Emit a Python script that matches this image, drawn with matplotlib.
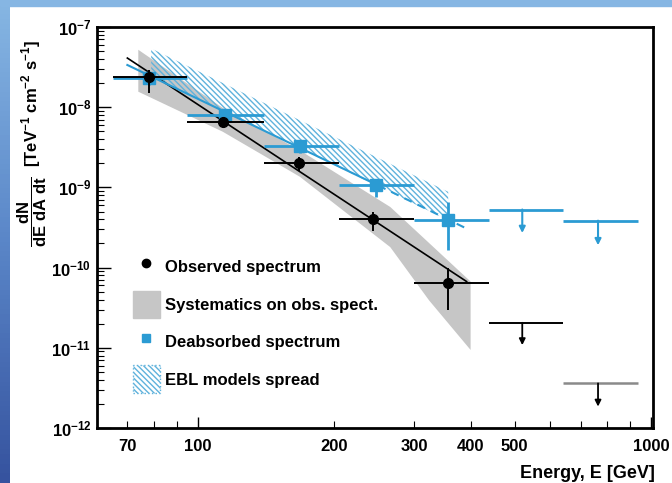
import matplotlib
matplotlib.use("Agg")
import matplotlib.pyplot as plt
import numpy as np
from matplotlib.lines import Line2D
from matplotlib.patches import Patch, Rectangle
from matplotlib.colors import LinearSegmentedColormap
from matplotlib.ticker import FixedLocator, FuncFormatter, LogLocator, NullFormatter

plt.rcParams['font.family'] = ['Liberation Sans', 'DejaVu Sans']
plt.rcParams['font.weight'] = 'bold'
plt.rcParams['mathtext.fontset'] = 'custom'
plt.rcParams['mathtext.rm'] = 'Liberation Sans:bold'
plt.rcParams['mathtext.bf'] = 'Liberation Sans:bold'
plt.rcParams['mathtext.it'] = 'Liberation Sans:bold'
plt.rcParams['hatch.linewidth'] = 1.0

BLUE = '#2b9bd3'
HATCH = '#5fb2dc'

# energy bins (GeV)
bin_lo = [65, 95, 140, 205, 300]
bin_hi = [95, 140, 205, 300, 440]
ul_lo = [440, 640]
ul_hi = [640, 935]

# observed spectrum
obs_E = [78, 114, 167, 244, 356]
obs_F = [2.35e-8, 6.6e-9, 2.0e-9, 4.0e-10, 6.5e-11]
obs_F_lo = [1.52e-8, 5.8e-9, 1.6e-9, 2.9e-10, 2.95e-11]
obs_F_hi = [2.9e-8, 7.3e-9, 2.4e-9, 5.0e-10, 9.9e-11]
obs_ul_E = [520, 764]
obs_ul_F = [2.05e-11, 3.6e-12]
obs_ul_end = [1.08e-11, 1.85e-12]

# deabsorbed spectrum
dea_E = [78, 115, 168, 247, 357]
dea_F = [2.3e-8, 8.1e-9, 3.3e-9, 1.07e-9, 3.9e-10]
dea_F_lo = [1.9e-8, 7.3e-9, 2.66e-9, 7.7e-10, 1.66e-10]
dea_F_hi = [2.8e-8, 9.0e-9, 3.9e-9, 1.24e-9, 6.6e-10]
dea_ul_E = [520, 764]
dea_ul_F = [5.3e-10, 3.85e-10]
dea_ul_end = [2.7e-10, 1.9e-10]

# fitted power laws (end points)
obs_fit_E = [70, 392]
obs_fit_F = [4.1e-8, 6.7e-11]
dea_fit_E = [70, 250]
dea_fit_F = [3.36e-8, 1.06e-9]
dea_fit_dash_E = [250, 398]
dea_fit_dash_F = [1.06e-9, 2.94e-10]

# systematics band on the observed spectrum (outline)
sys_E = [74, 113.6, 168, 266, 400, 400, 324, 266, 168, 113.6, 74]
sys_F = [5.2e-8, 9.8e-9, 2.9e-9, 5.7e-10, 6.7e-11, 9.4e-12, 3.9e-11, 1.8e-10, 1.36e-9, 4.95e-9, 1.56e-8]

# EBL models spread
ebl_E = [79, 357]
ebl_lo = [2.4e-8, 3.9e-10]
ebl_hi = [5.4e-8, 8.8e-10]

fig = plt.figure(figsize=(6.72, 4.83), dpi=100)

# slide background strips
grad = fig.add_axes([0, 0, 10 / 672, 1])
cmap = LinearSegmentedColormap.from_list('side', ['#36539f', '#5a86c8', '#86b6e3'])
grad.imshow(np.linspace(0, 1, 100).reshape(-1, 1), aspect='auto', cmap=cmap, origin='lower')
grad.axis('off')
fig.patches.append(Rectangle((0, 1 - 6 / 483), 1, 6 / 483, transform=fig.transFigure,
                             color='#86b6e3', zorder=0))

ax = fig.add_axes([97 / 672, 55 / 483, 556 / 672, 401 / 483])
ax.set_xscale('log')
ax.set_yscale('log')
ax.set_xlim(60, 1010)
ax.set_ylim(1e-12, 1e-7)

ax.fill(sys_E, sys_F, color='#c6c6c6', lw=0, zorder=1)
ax.fill_between(ebl_E, ebl_lo, ebl_hi, facecolor='none', edgecolor=HATCH, hatch='\\' * 6, lw=0, zorder=1)

ax.plot(obs_fit_E, obs_fit_F, color='black', lw=1.2, zorder=3)
ax.plot(dea_fit_E, dea_fit_F, color=BLUE, lw=1.5, zorder=3)
ax.plot(dea_fit_dash_E, dea_fit_dash_F, color=BLUE, lw=1.5, ls=(0, (4, 3)), zorder=3)

obs_E_a = np.array(obs_E)
obs_F_a = np.array(obs_F)
dea_E_a = np.array(dea_E)
dea_F_a = np.array(dea_F)
ax.errorbar(dea_E, dea_F,
            xerr=[dea_E_a - np.array(bin_lo), np.array(bin_hi) - dea_E_a],
            yerr=[dea_F_a - np.array(dea_F_lo), np.array(dea_F_hi) - dea_F_a],
            fmt='s', color=BLUE, ms=8, elinewidth=2, capsize=0, zorder=4)
ax.errorbar(obs_E, obs_F,
            xerr=[obs_E_a - np.array(bin_lo), np.array(bin_hi) - obs_E_a],
            yerr=[obs_F_a - np.array(obs_F_lo), np.array(obs_F_hi) - obs_F_a],
            fmt='o', color='black', ms=7, elinewidth=1.4, capsize=0, zorder=5)

# upper limits
ul_line_colors = ['black', '#8a8a8a']
for i in range(2):
    ax.hlines(obs_ul_F[i], ul_lo[i], ul_hi[i], color=ul_line_colors[i], lw=1.8 if i else 1.4)
    ax.annotate('', xy=(obs_ul_E[i], obs_ul_end[i]), xytext=(obs_ul_E[i], obs_ul_F[i]),
                arrowprops=dict(arrowstyle='-|>', color='black', lw=1.3, mutation_scale=9,
                                shrinkA=0, shrinkB=0))
    ax.hlines(dea_ul_F[i], ul_lo[i], ul_hi[i], color=BLUE, lw=2)
    ax.annotate('', xy=(dea_ul_E[i], dea_ul_end[i]), xytext=(dea_ul_E[i], dea_ul_F[i]),
                arrowprops=dict(arrowstyle='-|>', color=BLUE, lw=1.5, mutation_scale=9,
                                shrinkA=0, shrinkB=0))

# axes styling
for s in ax.spines.values():
    s.set_linewidth(2)
ax.tick_params(which='both', direction='in', top=False, right=False, labelsize=12)
ax.tick_params(axis='y', which='major', length=10, width=1, pad=4)
ax.tick_params(axis='y', which='minor', length=5, width=0.8)
ax.tick_params(axis='x', which='major', length=8, width=1, pad=8)
ax.tick_params(axis='x', which='minor', length=5, width=0.8, pad=8)
ax.yaxis.set_major_locator(LogLocator(base=10, numticks=10))
ax.yaxis.set_minor_locator(LogLocator(base=10, subs=np.arange(2, 10), numticks=10))
ax.yaxis.set_major_formatter(FuncFormatter(lambda v, p: r'$10^{%d}$' % round(np.log10(v))))
ax.yaxis.set_minor_formatter(NullFormatter())
ax.xaxis.set_major_locator(FixedLocator([100, 1000]))
ax.xaxis.set_minor_locator(FixedLocator([70, 200, 300, 400, 500, 80, 90, 600, 700, 800, 900]))
shown = {70, 200, 300, 400, 500, 100, 1000}
fmt = FuncFormatter(lambda v, p: '%d' % round(v) if round(v) in shown else '')
ax.xaxis.set_major_formatter(fmt)
ax.xaxis.set_minor_formatter(fmt)

fig.text(655 / 672, 1 - 478 / 483, 'Energy, E [GeV]', ha='right', va='baseline', fontsize=13)
fig.text(32 / 672, 1 - 247 / 483,
         r'$\dfrac{dN}{dE\ dA\ dt}$  [TeV$^{-1}$ cm$^{-2}$ s$^{-1}$]',
         rotation=90, ha='center', va='bottom', fontsize=12)

handles = [
    Line2D([], [], marker='o', color='black', ls='none', ms=6),
    Patch(facecolor='#c6c6c6', edgecolor='#c6c6c6'),
    Line2D([], [], marker='s', color=BLUE, ls='none', ms=6),
    Patch(facecolor='white', edgecolor=HATCH, hatch='\\' * 6, ls=':', lw=1),
]
labels = ['Observed spectrum', 'Systematics on obs. spect.', 'Deabsorbed spectrum', 'EBL models spread']
ax.legend(handles, labels, loc='upper left', bbox_to_anchor=(0.065, 0.436), frameon=False,
          fontsize=12, handlelength=1.6, handleheight=2.2, handletextpad=0.3,
          labelspacing=0.57, borderpad=0, borderaxespad=0)

fig.savefig('out.png', dpi=100)
